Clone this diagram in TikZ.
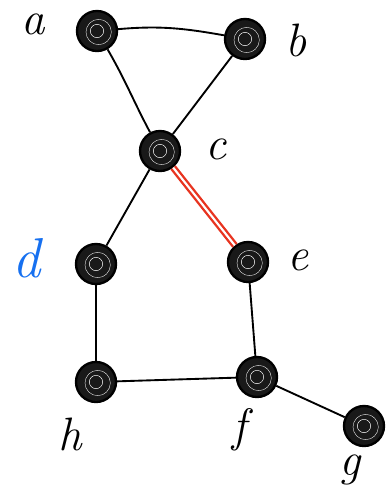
\documentclass[tikz,border=0pt]{standalone}
\usepackage{xcolor}
\usepackage{tikz}
\usetikzlibrary{arrows.meta, positioning, calc}
\definecolor{grred}{RGB}{232,52,32}
\definecolor{grblue}{RGB}{22,112,240}

\begin{document}
\begin{tikzpicture}[
  x=0.03cm, y=-0.03cm,
  vtx/.style={circle, draw=black, line width=2pt, fill=black!90, minimum size=1.2cm, inner sep=0pt,
    path picture={
      \draw[white, line width=0.4pt] (path picture bounding box.center) circle (0.2cm);
      \draw[white, line width=0.3pt] ($(path picture bounding box.center)+(0.05cm,-0.03cm)$) circle (0.38cm);
    }},
  edge/.style={line width=1.6pt, black},
  hot/.style={line width=2pt, draw=grred, double=white, double distance=1.8pt},
  lbl/.style={font=\fontsize{40}{42}\selectfont\itshape, inner sep=0pt},
  >=Stealth
]
  \useasboundingbox (0,0) rectangle (389,498);

  % Vertices
  \node[vtx] (a) at (97, 31) {};
  \node[vtx] (b) at (245, 39) {};
  \node[vtx] (c) at (160, 151) {};
  \node[vtx] (d) at (96, 264) {};
  \node[vtx] (e) at (248, 262) {};
  \node[vtx] (h) at (96, 382) {};
  \node[vtx] (f) at (257, 377) {};
  \node[vtx] (g) at (364, 426) {};

  % Names
  \node[lbl] (la) at (33, 24) {a};
  \node[lbl] (lb) at (296, 40) {b};
  \node[lbl] (lc) at (216, 149) {c};
  \node[lbl, grblue, font=\fontsize{48}{50}\selectfont\itshape] (ld) at (27, 258) {d};
  \node[lbl] (le) at (298, 260) {e};
  \node[lbl] (lh) at (70, 434) {h};
  \node[lbl] (lf) at (240, 430) {f};
  \node[lbl] (lg) at (350, 470) {g};

  % Edges
  \draw[edge] (a) to[out=5, in=170] (b);
  \draw[edge] (a) to[out=-60, in=118] (c);
  \draw[edge] (b) -- (c);
  \draw[edge] (c) -- (d);
  \draw[edge] (d) -- (h);
  \draw[edge] (e) -- (f);
  \draw[edge] (h) -- (f);
  \draw[edge] (f) -- (g);
  \draw[hot] (c) -- (e);

\end{tikzpicture}
\end{document}
